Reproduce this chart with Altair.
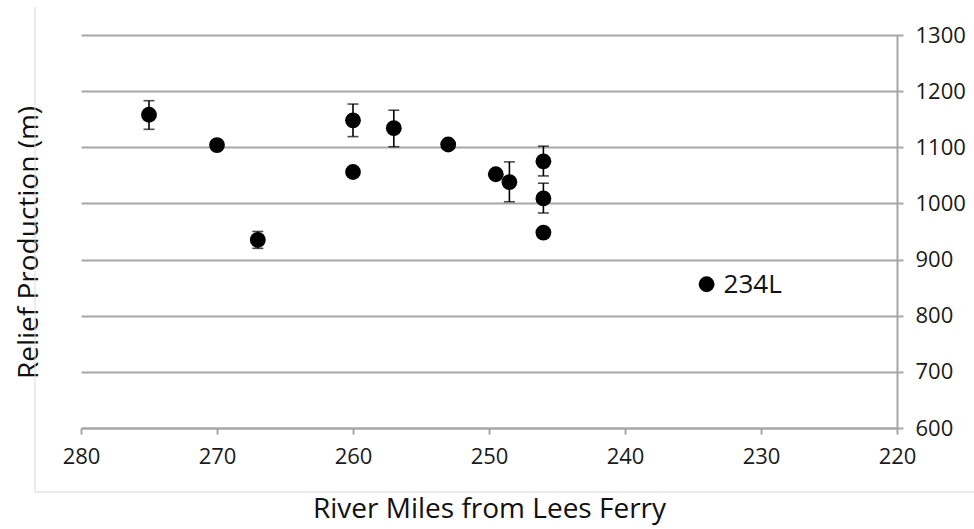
import altair as alt
import pandas as pd

# Data
miles = [275, 270, 267, 260, 260, 257, 253, 249.5, 248.5, 246, 246, 246, 234]
relief = [1158, 1104, 935, 1148, 1056, 1134, 1105, 1052, 1038, 1075, 1009, 948, 856]
err_low = [1132, None, 920, 1119, None, 1101, None, None, 1003, 1049, 983, None, None]
err_high = [1183, None, 950, 1177, None, 1166, None, None, 1074, 1102, 1036, None, None]
labels = ["", "", "", "", "", "", "", "", "", "", "", "", "234L"]

x_ticks = [280, 270, 260, 250, 240, 230, 220]
y_ticks = [600, 700, 800, 900, 1000, 1100, 1200, 1300]

df = pd.DataFrame({"miles": miles, "relief": relief, "lo": err_low, "hi": err_high, "label": labels})
df_err = df.dropna(subset=["lo"])
df_lab = df[df["label"] != ""]

FONT = "Open Sans"
GRID = "#a6a6a6"

xscale = alt.Scale(domain=[220, 280], reverse=True, nice=False)
yscale = alt.Scale(domain=[600, 1300], nice=False, zero=False)

xaxis = alt.Axis(values=x_ticks, title="River Miles from Lees Ferry", grid=False, format="d",
                 labelFont=FONT, labelFontSize=22, labelColor="#1a1a1a", labelFlush=False,
                 labelPadding=12, tickSize=6, tickColor=GRID, tickWidth=2,
                 domainColor=GRID, domainWidth=2,
                 titleFont=FONT, titleFontSize=28, titleFontWeight="normal",
                 titleColor="#111111", titleBaseline="alphabetic", titleY=89)

yaxis = alt.Axis(orient="right", values=y_ticks, title="Relief Production (m)", grid=True,
                 format="d", gridColor=GRID, gridWidth=2,
                 labelFont=FONT, labelFontSize=22, labelColor="#1a1a1a", labelFlush=False,
                 labelPadding=12, tickSize=6, tickColor=GRID, tickWidth=2,
                 domainColor=GRID, domainWidth=2,
                 titleFont=FONT, titleFontSize=28, titleFontWeight="normal",
                 titleColor="#111111", titleAngle=270, titleBaseline="alphabetic",
                 titleX=-860, titleY=207)

points = alt.Chart(df).mark_point(filled=True, shape="circle", size=250, color="#000000",
                                  opacity=1).encode(
    x=alt.X("miles:Q", scale=xscale, axis=xaxis),
    y=alt.Y("relief:Q", scale=yscale, axis=yaxis))

err_rule = alt.Chart(df_err).mark_rule(color="#000000", strokeWidth=1.6).encode(
    x=alt.X("miles:Q", scale=xscale, axis=xaxis),
    y=alt.Y("lo:Q", scale=yscale, axis=yaxis), y2="hi:Q")
cap_lo = alt.Chart(df_err).mark_tick(color="#000000", orient="horizontal", size=11, thickness=1.6).encode(
    x=alt.X("miles:Q", scale=xscale, axis=xaxis),
    y=alt.Y("lo:Q", scale=yscale, axis=yaxis))
cap_hi = alt.Chart(df_err).mark_tick(color="#000000", orient="horizontal", size=11, thickness=1.6).encode(
    x=alt.X("miles:Q", scale=xscale, axis=xaxis),
    y=alt.Y("hi:Q", scale=yscale, axis=yaxis))

text = alt.Chart(df_lab).mark_text(align="left", baseline="middle", dx=17, dy=1, font=FONT,
                                   fontSize=26, color="#111111").encode(
    x=alt.X("miles:Q", scale=xscale, axis=xaxis),
    y=alt.Y("relief:Q", scale=yscale, axis=yaxis), text="label:N")

# faint outer chart-area border (left and bottom edges)
frame_df = pd.DataFrame({"k": [0]})
frame_left = alt.Chart(frame_df).mark_rule(color="#d9d9d9", strokeWidth=1).encode(
    x=alt.value(-46), y=alt.value(-28), y2=alt.value(457))
frame_bottom = alt.Chart(frame_df).mark_rule(color="#d9d9d9", strokeWidth=1).encode(
    x=alt.value(-46), x2=alt.value(900), y=alt.value(457))

chart = alt.layer(frame_left, frame_bottom, points, err_rule, cap_lo, cap_hi, text).properties(
    width=816, height=393,
    autosize=alt.AutoSizeParams(type="none"),
    padding={"left": 81, "top": 35, "right": 77, "bottom": 101},
    background="white",
).configure_view(stroke=None)

chart.save("out.html", embed_options={"renderer": "svg", "actions": False})
